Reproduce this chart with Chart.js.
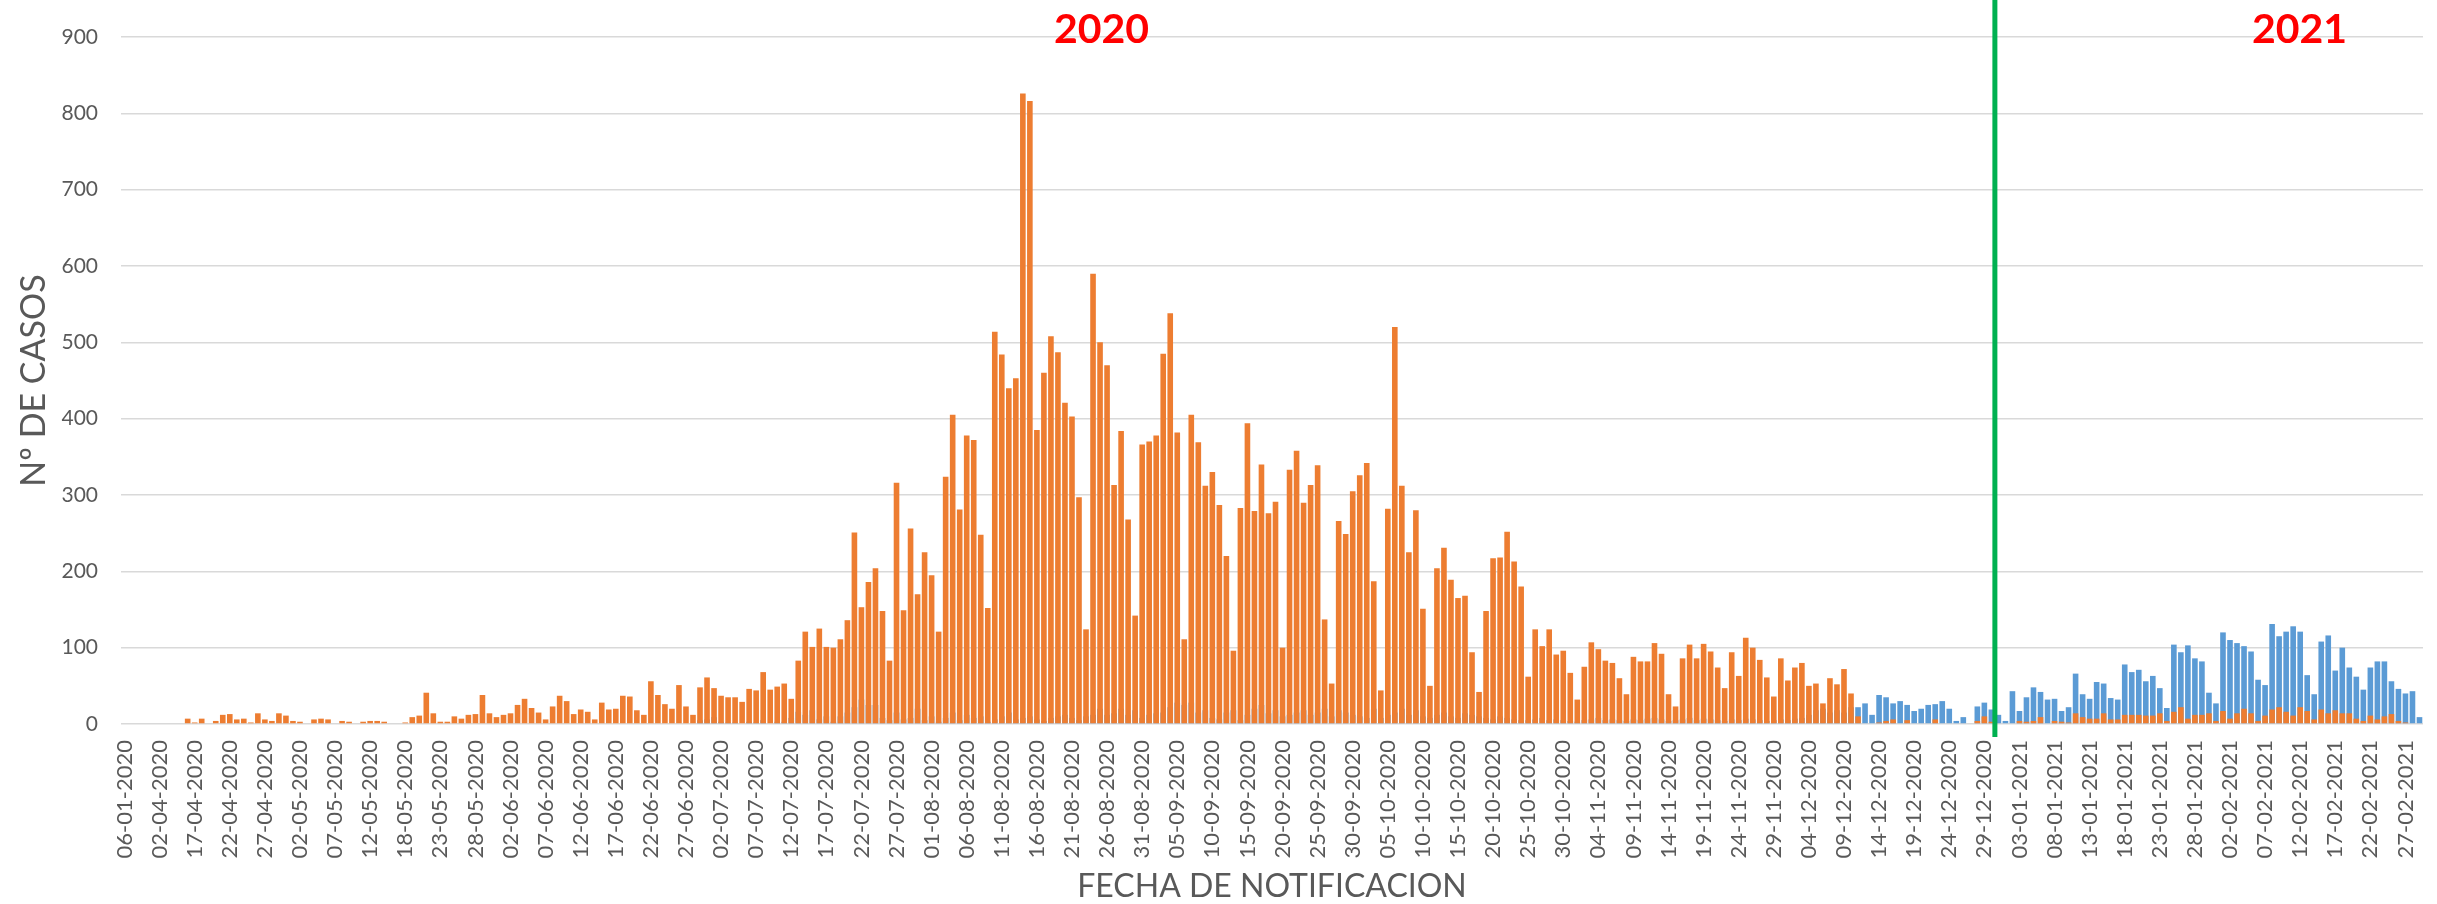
<!DOCTYPE html>
<html>
<head>
<meta charset="utf-8">
<script src="https://cdn.jsdelivr.net/npm/chart.js@4.4.0/dist/chart.umd.min.js"></script>
<style>
  html, body { margin: 0; padding: 0; background: #fff; }
  #wrap { width: 2437px; height: 904px; }
</style>
</head>
<body>
<div id="wrap"><canvas id="casosChart" width="2437" height="904"></canvas></div>
<script>
// tick labels shown on the date axis (one every 5 bars)
const tickLabels = [
  '06-01-2020', '02-04-2020', '17-04-2020', '22-04-2020', '27-04-2020', '02-05-2020',
  '07-05-2020', '12-05-2020', '18-05-2020', '23-05-2020', '28-05-2020', '02-06-2020',
  '07-06-2020', '12-06-2020', '17-06-2020', '22-06-2020', '27-06-2020', '02-07-2020',
  '07-07-2020', '12-07-2020', '17-07-2020', '22-07-2020', '27-07-2020', '01-08-2020',
  '06-08-2020', '11-08-2020', '16-08-2020', '21-08-2020', '26-08-2020', '31-08-2020',
  '05-09-2020', '10-09-2020', '15-09-2020', '20-09-2020', '25-09-2020', '30-09-2020',
  '05-10-2020', '10-10-2020', '15-10-2020', '20-10-2020', '25-10-2020', '30-10-2020',
  '04-11-2020', '09-11-2020', '14-11-2020', '19-11-2020', '24-11-2020', '29-11-2020',
  '04-12-2020', '09-12-2020', '14-12-2020', '19-12-2020', '24-12-2020', '29-12-2020',
  '03-01-2021', '08-01-2021', '13-01-2021', '18-01-2021', '23-01-2021', '28-01-2021',
  '02-02-2021', '07-02-2021', '12-02-2021', '17-02-2021', '22-02-2021', '27-02-2021'
];

// orange series (one value per notification date)
const casosNaranja = [
  0, 0, 0, 0, 0, 0, 0, 0, 0, 7,
  2, 7, 1, 4, 12, 13, 6, 7, 2, 14,
  6, 4, 14, 11, 4, 3, 0, 6, 7, 6,
  0, 4, 3, 1, 3, 4, 4, 3, 1, 0,
  2, 9, 11, 41, 14, 3, 3, 10, 7, 12,
  13, 38, 14, 9, 12, 14, 25, 33, 21, 15,
  6, 23, 37, 30, 13, 19, 16, 6, 28, 19,
  20, 37, 36, 18, 12, 56, 38, 26, 20, 51,
  23, 12, 48, 61, 47, 37, 35, 35, 29, 46,
  44, 68, 45, 49, 53, 33, 83, 121, 101, 125,
  101, 100, 111, 136, 251, 153, 186, 204, 148, 83,
  316, 149, 256, 170, 225, 195, 121, 324, 405, 281,
  378, 372, 248, 152, 514, 484, 440, 453, 826, 816,
  385, 460, 508, 487, 421, 403, 297, 124, 590, 500,
  470, 313, 384, 268, 142, 366, 370, 378, 485, 538,
  382, 111, 405, 369, 312, 330, 287, 220, 96, 283,
  394, 279, 340, 276, 291, 100, 333, 358, 290, 313,
  339, 137, 53, 266, 249, 305, 326, 342, 187, 44,
  282, 520, 312, 225, 280, 151, 50, 204, 231, 189,
  165, 168, 94, 42, 148, 217, 218, 252, 213, 180,
  62, 124, 102, 124, 91, 96, 67, 32, 75, 107,
  98, 83, 80, 60, 39, 88, 82, 82, 106, 92,
  39, 23, 86, 104, 86, 105, 95, 74, 47, 94,
  63, 113, 100, 84, 61, 36, 86, 57, 74, 80,
  50, 53, 27, 60, 52, 72, 40, 10, 0, 0,
  2, 4, 6, 0, 5, 1, 0, 1, 6, 1,
  0, 0, 1, 0, 4, 10, 3, 0, 0, 0,
  4, 3, 4, 9, 0, 4, 3, 2, 14, 9,
  7, 7, 14, 6, 6, 12, 12, 12, 11, 11,
  14, 4, 16, 22, 7, 12, 12, 14, 4, 17,
  7, 14, 20, 14, 4, 11, 19, 22, 16, 11,
  22, 17, 6, 19, 14, 18, 14, 14, 7, 4,
  11, 6, 10, 13, 4, 2, 1, 0
];

// blue series (mostly hidden behind the orange bars during 2020)
const casosAzul = [
  0, 0, 0, 0, 0, 0, 0, 0, 0, 0,
  0, 0, 0, 0, 0, 0, 0, 0, 0, 0,
  0, 0, 0, 0, 0, 0, 0, 0, 0, 0,
  0, 0, 0, 0, 0, 0, 0, 0, 0, 0,
  0, 0, 0, 0, 0, 0, 0, 0, 0, 0,
  0, 0, 0, 0, 0, 0, 0, 0, 0, 0,
  0, 0, 0, 0, 0, 0, 0, 0, 0, 0,
  0, 0, 0, 0, 0, 0, 0, 0, 0, 0,
  0, 0, 5, 6, 9, 3, 2, 2, 1, 3,
  2, 5, 1, 3, 3, 8, 16, 12, 18, 6,
  10, 3, 10, 15, 22, 32, 25, 25, 8, 5,
  15, 6, 8, 20, 5, 10, 3, 8, 15, 5,
  12, 8, 10, 3, 6, 10, 15, 6, 8, 10,
  6, 4, 8, 10, 12, 8, 5, 10, 12, 20,
  12, 14, 20, 12, 18, 8, 12, 14, 15, 22,
  28, 25, 28, 15, 18, 8, 6, 15, 18, 5,
  12, 20, 25, 14, 18, 10, 12, 15, 18, 12,
  15, 20, 10, 18, 15, 12, 10, 8, 20, 8,
  12, 15, 20, 12, 18, 10, 8, 12, 15, 10,
  8, 14, 12, 10, 8, 6, 10, 8, 6, 5,
  5, 6, 8, 5, 6, 5, 4, 3, 5, 6,
  8, 5, 6, 5, 4, 6, 5, 7, 8, 6,
  4, 5, 6, 8, 5, 7, 6, 5, 4, 6,
  5, 7, 6, 5, 4, 5, 6, 5, 7, 8,
  12, 18, 20, 15, 18, 15, 22, 22, 27, 12,
  38, 35, 27, 30, 25, 17, 20, 25, 26, 30,
  20, 4, 9, 1, 23, 28, 19, 12, 4, 43,
  17, 35, 48, 42, 32, 33, 17, 22, 66, 39,
  33, 55, 53, 34, 32, 78, 68, 71, 56, 63,
  47, 21, 104, 94, 103, 86, 82, 41, 27, 120,
  110, 106, 102, 95, 58, 51, 131, 115, 121, 128,
  121, 64, 39, 108, 116, 70, 100, 74, 62, 45,
  74, 82, 82, 56, 46, 40, 43, 9
];

const yearTitles = ['2020', '2021'];

// one category per bar; only every 5th one carries a date label
const categories = [];
tickLabels.forEach((lbl, k) => {
  categories.push(lbl);
  const fill = k === tickLabels.length - 1 ? 2 : 4;
  for (let j = 0; j < fill; j++) categories.push('');
});

const tickFont = { family: 'Lato', size: 22 };
const gris = '#595959';

// green year separator and red year titles
const yearMarks = {
  id: 'yearMarks',
  afterDatasetsDraw(chart) {
    const { ctx, scales: { x, y } } = chart;
    const lineX = x.getPixelForValue(266.5);
    ctx.save();
    ctx.strokeStyle = '#00B050';
    ctx.lineWidth = 5;
    ctx.beginPath();
    ctx.moveTo(lineX, 0);
    ctx.lineTo(lineX, y.getPixelForValue(0) + 13);
    ctx.stroke();
    ctx.fillStyle = '#FF0000';
    ctx.font = 'bold 41px Lato';
    ctx.textAlign = 'center';
    ctx.textBaseline = 'middle';
    ctx.fillText(yearTitles[0], x.getPixelForValue(139.2), y.getPixelForValue(910));
    ctx.fillText(yearTitles[1], x.getPixelForValue(309.9), y.getPixelForValue(910));
    ctx.restore();
  }
};

const casosCtx = document.getElementById('casosChart').getContext('2d');
new Chart(casosCtx, {
  type: 'bar',
  data: {
    labels: categories,
    datasets: [
      {
        label: 'Naranja',
        data: casosNaranja,
        backgroundColor: '#ED7D31',
        order: 1,
        grouped: false,
        barPercentage: 0.8,
        categoryPercentage: 1,
      },
      {
        label: 'Azul',
        data: casosAzul,
        backgroundColor: '#5B9BD5',
        order: 2,
        grouped: false,
        barPercentage: 0.8,
        categoryPercentage: 1,
      },
    ],
  },
  options: {
    responsive: false,
    animation: false,
    layout: { padding: { top: 37, right: 14, left: 0, bottom: 0 } },
    scales: {
      x: {
        grid: { display: false, drawTicks: false },
        border: { display: false },
        ticks: { font: tickFont, color: gris, autoSkip: false, maxRotation: 90, minRotation: 90, padding: 16 },
        title: { display: true, text: 'FECHA DE NOTIFICACION', color: gris, font: { family: 'Lato', size: 32, lineHeight: 1 }, padding: { top: 0, bottom: 1 } },
        afterFit: (scale) => {
          scale.height = 180;
          scale.paddingLeft = 0;
          scale.paddingRight = 0;
        }
      },
      y: {
        min: 0,
        max: 900,
        grid: { color: '#D9D9D9', lineWidth: 1.5, drawTicks: false },
        border: { display: false },
        ticks: { stepSize: 100, font: { family: 'Lato', size: 21 }, color: gris, padding: 23 },
        title: { display: true, text: 'Nº DE CASOS', color: gris, font: { family: 'Lato', size: 34, lineHeight: 1 }, padding: { top: 17, bottom: 0 } },
        afterFit: (scale) => { scale.width = 121; }
      }
    },
    plugins: {
      legend: { display: false },
      tooltip: { enabled: false }
    }
  },
  plugins: [yearMarks]
});
</script>
</body>
</html>
